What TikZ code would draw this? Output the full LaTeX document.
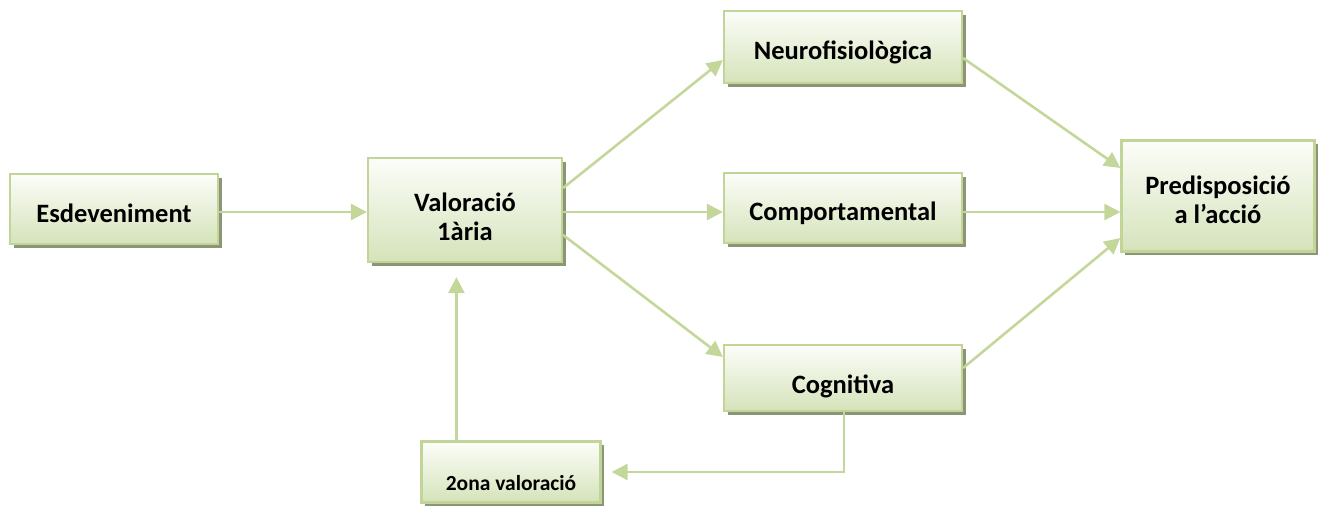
\documentclass[tikz,border=0pt]{standalone}
\usepackage{fontspec}
\setmainfont{Carlito}
\usetikzlibrary{arrows.meta,calc,shadows,positioning}
\definecolor{lineg}{RGB}{196,215,155}
\definecolor{bordg}{RGB}{194,213,152}
\definecolor{topg}{RGB}{252,253,249}
\definecolor{botg}{RGB}{213,227,186}
\definecolor{shadg}{RGB}{140,150,118}
\newcommand{\dn}[2]{\raisebox{-#1}[\height][\depth]{\begin{tabular}{@{}c@{}}#2\end{tabular}}}
\tikzset{
  boxnode/.style={draw=bordg, line width=2.2pt, rectangle, inner sep=0pt,
    top color=topg, bottom color=botg, align=center,
    font=\bfseries\fontsize{26.5}{29}\selectfont,
    general shadow={shadow xshift=3.5pt, shadow yshift=-3.5pt, fill=shadg}},
  conn/.style={draw=lineg, line width=2.6pt,
    -{Triangle[length=16pt,width=16pt,fill=lineg]}},
}
\begin{document}
\begin{tikzpicture}[x=1pt,y=-1pt]
\useasboundingbox (0,0) rectangle (1323,506);
% boxes
\node[boxnode, minimum width=208pt, minimum height=70pt] (E) at (114,209) {\dn{8pt}{Esdeveniment}};
\node[boxnode, minimum width=194pt, minimum height=104pt] (V) at (465,210) {\dn{10pt}{Valoració\\1ària}};
\node[boxnode, minimum width=238pt, minimum height=72pt] (N) at (843,47) {\dn{7pt}{Neurofisiològica}};
\node[boxnode, minimum width=238pt, minimum height=70pt] (C) at (843,208) {\dn{7pt}{Comportamental}};
\node[boxnode, minimum width=238pt, minimum height=66pt] (G) at (843,378) {\dn{10pt}{Cognitiva}};
\node[boxnode, minimum width=193pt, minimum height=111pt] (P) at (1218,196) {\dn{7pt}{Predisposició\\a l’acció}};
\node[boxnode, minimum width=179pt, minimum height=61pt, font=\bfseries\fontsize{21.5}{25}\selectfont] (S) at (511,472) {\dn{13pt}{2ona valoració}};
% connectors
\coordinate (eh) at ($(E.east)+(0,3)$);
\draw[conn] (eh) -- (eh -| V.west);
\draw[conn] ($(V.east)+(0,-22)$) -- ($(N.west)+(0,13)$);
\coordinate (vh) at ($(V.east)+(0,2)$);
\draw[conn] (vh) -- (vh -| C.west);
\draw[conn] ($(V.east)+(0,25)$) -- ($(G.west)+(0,-21)$);
\draw[conn] ($(N.east)+(0,11)$) -- ($(P.west)+(0,-28)$);
\coordinate (ch) at ($(C.east)+(0,4)$);
\draw[conn] (ch) -- (ch -| P.west);
\draw[conn] ($(G.east)+(0,-10)$) -- ($(P.west)+(0,42)$);
\draw[conn] (G.south) ++(1,0) |- ($(S.east)+(10,0)$);
\coordinate (st) at ($(S.north west)+(36,0)$);
\draw[conn] (st) -- (st |- {$(V.south)+(0,14)$});
\end{tikzpicture}
\end{document}
